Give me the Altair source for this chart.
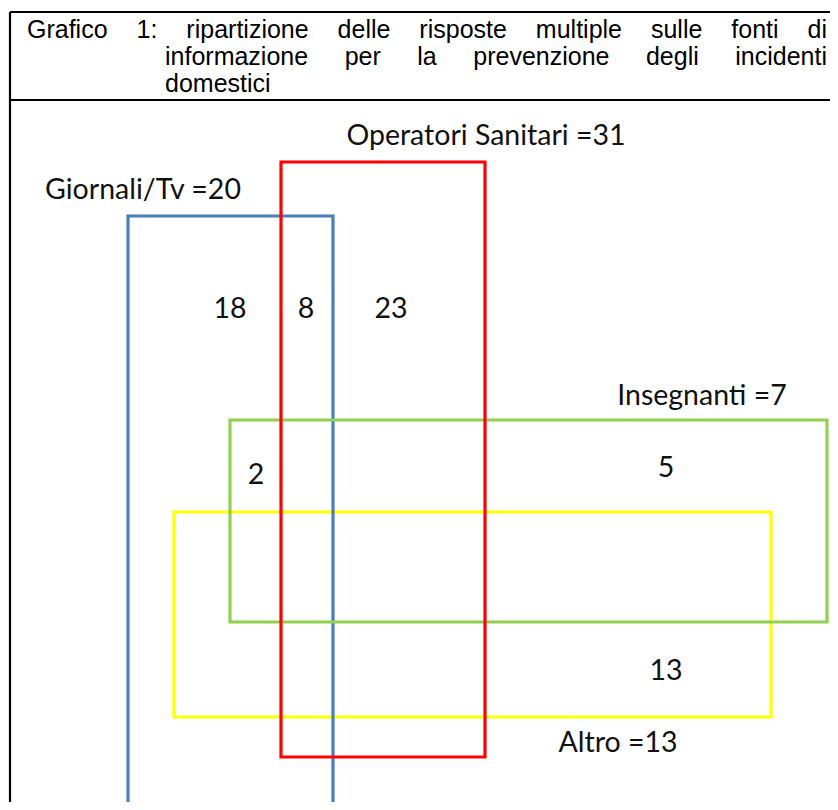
import altair as alt
import pandas as pd

# ---------------- data ----------------
# Rectangles of the Venn-like diagram (coordinates in picture units)
set_names = ["Altro", "Insegnanti", "Giornali/Tv", "Operatori Sanitari"]
set_x1 = [174, 230, 128, 281]
set_x2 = [771, 827, 333, 485]
set_y1 = [512, 420, 216, 162]
set_y2 = [717, 622, 808, 757]
set_colors = ["#FFFF00", "#92D050", "#4A7EBB", "#FF0000"]

# Labels and counts
label_text = ["Operatori Sanitari =31", "Giornali/Tv =20", "18", "8", "23",
              "Insegnanti =7", "2", "5", "13", "Altro =13"]
label_x = [486, 143, 230, 306, 391, 702, 256, 666, 666, 618]
label_y = [145, 199, 318, 318, 318, 405, 484, 477, 680, 752]

# Title (justified, as in the document table)
title_lines = [
    "Grafico 1: ripartizione delle risposte multiple sulle fonti di",
    "informazione per la prevenzione degli incidenti",
    "domestici",
]
title_start = [27, 165, 165]
title_end = 827
title_baseline = [38, 65, 92]
title_justify = [True, True, False]

# Table frame lines
frame_x1 = [10, 10, 10]
frame_x2 = [10, 838, 838]
frame_y1 = [12, 12, 100]
frame_y2 = [810, 12, 100]

# ---------------- helpers ----------------
TITLE_SIZE = 25
ARIAL = {"a": 556, "b": 556, "c": 500, "d": 556, "e": 556, "f": 278, "g": 556,
         "h": 556, "i": 222, "l": 222, "m": 833, "n": 556, "o": 556, "p": 556,
         "r": 333, "s": 500, "t": 278, "u": 556, "v": 500, "z": 500, "G": 778,
         "1": 556, ":": 278}


def word_width(w):
    return sum(ARIAL.get(ch, 556) for ch in w) / 1000 * TITLE_SIZE


title_rows = []
for line, x0, yb, just in zip(title_lines, title_start, title_baseline, title_justify):
    words = line.split(" ")
    widths = [word_width(w) for w in words]
    if just and len(words) > 1:
        gap = (title_end - x0 - sum(widths)) / (len(words) - 1)
    else:
        gap = 0.278 * TITLE_SIZE
    x = x0
    for w, wd in zip(words, widths):
        title_rows.append({"word": w, "x": x, "y": yb})
        x += wd + gap
title_df = pd.DataFrame(title_rows)

rect_df = pd.DataFrame({"name": set_names, "x1": set_x1, "x2": set_x2,
                        "y1": set_y1, "y2": set_y2})
label_df = pd.DataFrame({"text": label_text, "x": label_x, "y": label_y})
frame_df = pd.DataFrame({"x1": frame_x1, "x2": frame_x2,
                         "y1": frame_y1, "y2": frame_y2})

W, H = 822, 794
xs = alt.Scale(domain=[8, 8 + W], nice=False, zero=False)
ys = alt.Scale(domain=[8, 8 + H], nice=False, zero=False, reverse=True)

base_x = lambda f: alt.X(f, type="quantitative", scale=xs, axis=None)
base_y = lambda f: alt.Y(f, type="quantitative", scale=ys, axis=None)

rects = alt.Chart(rect_df).mark_rect(fillOpacity=0, strokeWidth=3.2, clip=True).encode(
    x=base_x("x1"), x2="x2", y=base_y("y1"), y2="y2",
    stroke=alt.Stroke("name:N", scale=alt.Scale(domain=set_names, range=set_colors),
                      legend=None),
    order=alt.Order("name:N"),
)

frame = alt.Chart(frame_df).mark_rule(color="black", strokeWidth=2.2, clip=True).encode(
    x=base_x("x1"), x2="x2", y=base_y("y1"), y2="y2"
)

labels = alt.Chart(label_df).mark_text(
    font="Lato", fontSize=28.5, align="center", baseline="alphabetic", color="#111111"
).encode(x=base_x("x"), y=base_y("y"), text="text:N")

title = alt.Chart(title_df).mark_text(
    font="Liberation Sans", fontSize=TITLE_SIZE, align="left", baseline="alphabetic",
    color="black"
).encode(x=base_x("x"), y=base_y("y"), text="word:N")

chart = alt.layer(rects, frame, labels, title).properties(
    width=W, height=H, padding=0, autosize="none", background="white"
).configure_view(stroke=None)

chart.save("out.html", embed_options={"renderer": "svg", "actions": False})
